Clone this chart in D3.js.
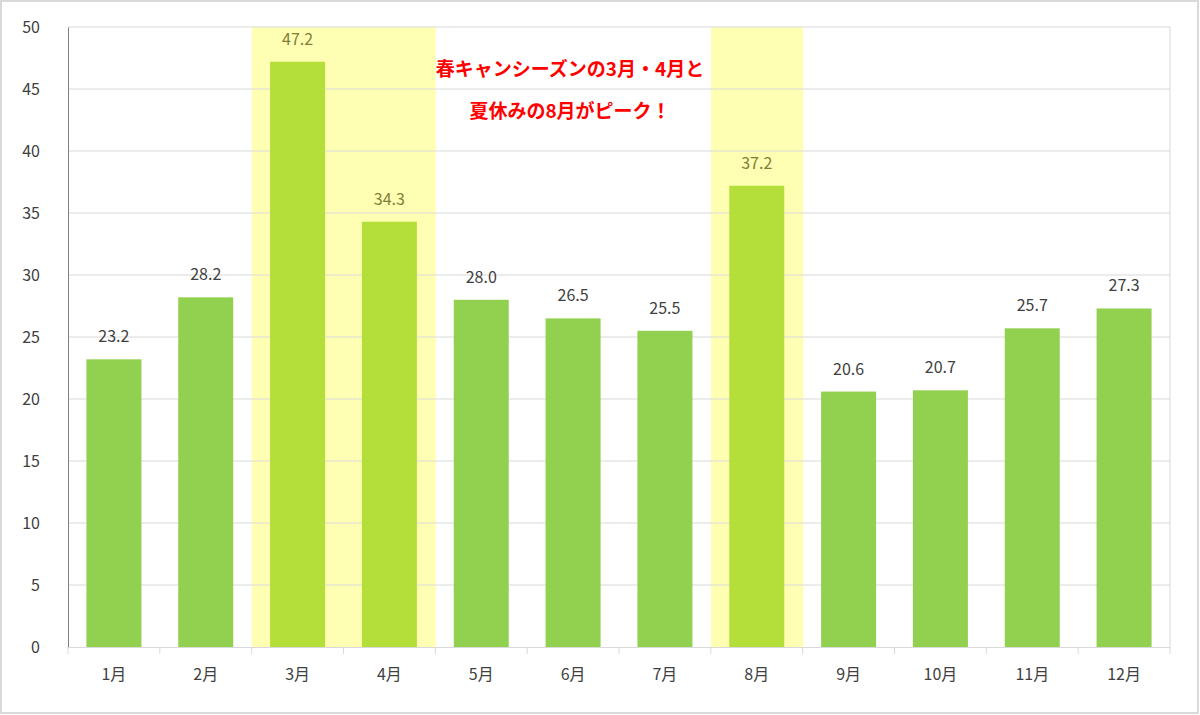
<!DOCTYPE html>
<html><head><meta charset="utf-8">
<script src="https://cdn.jsdelivr.net/npm/d3@7"></script>
<style>body{margin:0;background:#fff}svg{display:block}</style>
</head><body>
<svg id="c" width="1200" height="715"></svg>
<script>
const categories=["1月","2月","3月","4月","5月","6月","7月","8月","9月","10月","11月","12月"];
const values=[23.2,28.2,47.2,34.3,28.0,26.5,25.5,37.2,20.6,20.7,25.7,27.3];
const highlighted=["3月","4月","8月"];
const yTicks=[0,5,10,15,20,25,30,35,40,45,50];
const noteLines=["春キャンシーズンの3月・4月と","夏休みの8月がピーク！"];

const svg=d3.select("#c");
const font="'Noto Sans CJK JP','DejaVu Sans',sans-serif";
svg.append("rect").attr("x",1).attr("y",1).attr("width",1197).attr("height",712).attr("fill","#fff").attr("stroke","#d9d9d9").attr("stroke-width",2);
const L=68,R=1170,T=27,B=647;
const x=d3.scaleBand().domain(categories).range([L,R]).paddingInner(0).paddingOuter(0);
const y=d3.scaleLinear().domain([0,50]).range([B,T]);
// highlight bands
svg.selectAll(".hl").data(highlighted).join("rect").attr("x",d=>x(d)).attr("y",T).attr("width",x.bandwidth()+0.5).attr("height",B-T).attr("fill","#ffffb3");
// grid
svg.selectAll(".g").data(yTicks.filter(t=>t>0)).join("line").attr("x1",L).attr("x2",R).attr("y1",d=>y(d)).attr("y2",d=>y(d)).attr("stroke","#d9d9d9").attr("stroke-width",1);
svg.append("line").attr("x1",R).attr("x2",R).attr("y1",T).attr("y2",B).attr("stroke","#d9d9d9");
const bw=55;
svg.selectAll(".b").data(values).join("rect").attr("x",(d,i)=>x(categories[i])+(x.bandwidth()-bw)/2).attr("width",bw)
 .attr("y",d=>y(d)).attr("height",d=>B-y(d)).attr("fill",(d,i)=>highlighted.includes(categories[i])?"#b4df3a":"#92d050");
svg.selectAll(".v").data(values).join("text").attr("x",(d,i)=>x(categories[i])+x.bandwidth()/2).attr("y",d=>y(d)-17)
 .attr("text-anchor","middle").attr("font-family",font).attr("font-size",16).attr("fill",(d,i)=>highlighted.includes(categories[i])?"#7f7f3a":"#404040").text(d=>d.toFixed(1));
// axes
const ya=svg.append("g").attr("transform",`translate(${L},0)`).call(d3.axisLeft(y).tickValues(yTicks).tickSize(0).tickPadding(28));
ya.select(".domain").attr("stroke","#808080");
ya.selectAll("text").attr("font-family",font).attr("font-size",16).attr("fill","#404040");
const xa=svg.append("g").attr("transform",`translate(0,${B})`).call(d3.axisBottom(x).tickSize(0).tickPadding(22));
xa.select(".domain").attr("stroke","#d9d9d9");
xa.selectAll("text").attr("font-family",font).attr("font-size",16).attr("fill","#404040");
svg.selectAll(".tk").data(d3.range(categories.length+1)).join("line").attr("x1",i=>L+i*x.bandwidth()).attr("x2",i=>L+i*x.bandwidth()).attr("y1",B).attr("y2",B+7).attr("stroke","#d9d9d9");
svg.selectAll(".n").data(noteLines).join("text").attr("x",570).attr("y",(d,i)=>76+i*42).attr("text-anchor","middle")
 .attr("font-family",font).attr("font-weight","bold").attr("font-size",19).attr("fill","#ff0000").text(d=>d);
</script></body></html>
